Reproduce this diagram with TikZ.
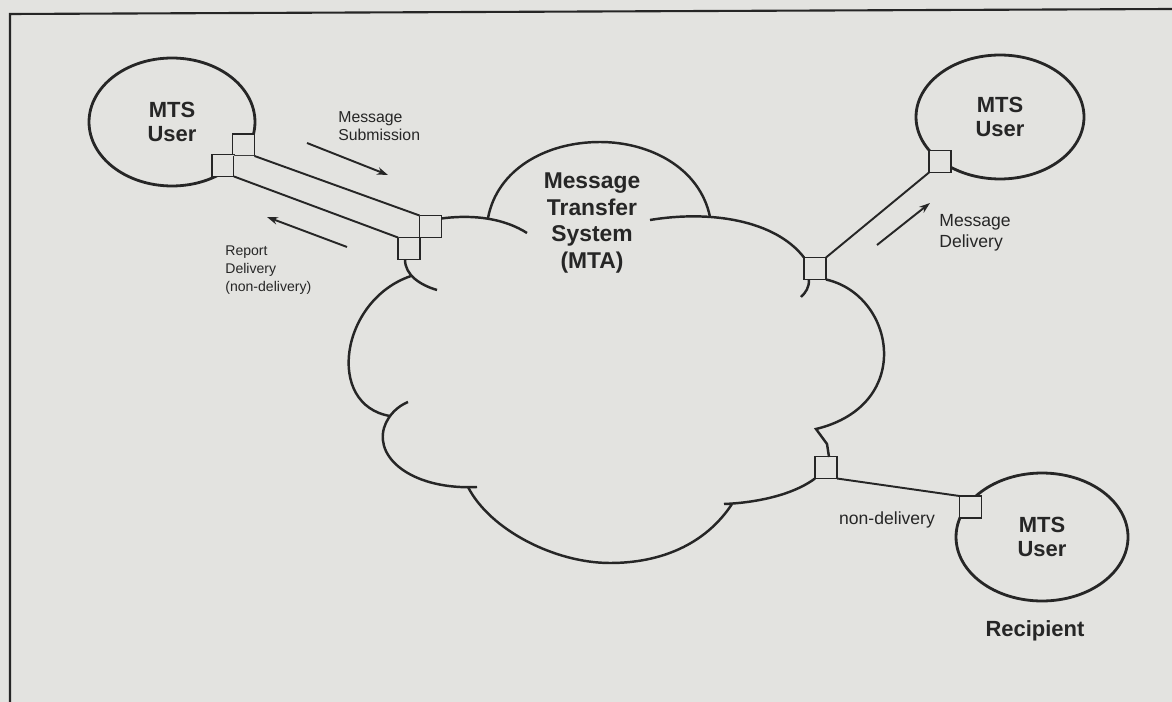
\documentclass[tikz,border=0pt]{standalone}
\usepackage{fontspec}
\setmainfont{Liberation Sans}
\usetikzlibrary{shapes.geometric,arrows.meta}
\definecolor{paper}{RGB}{227,227,224}
\definecolor{ink}{RGB}{38,38,38}

\begin{document}
\begin{tikzpicture}[x=0.02cm,y=-0.02cm,
  user/.style={draw=ink,line width=1.6pt,ellipse,align=center,text=ink,
    font=\fontsize{12.5}{14}\selectfont\bfseries},
  port/.style={draw=ink,line width=0.8pt,fill=paper,minimum size=0.44cm,
    inner sep=0pt,outer sep=0pt},
  cloud/.style={draw=ink,line width=1.4pt},
  link/.style={draw=ink,line width=1.1pt},
  lbl/.style={text=ink,align=left,inner sep=0pt,font=\fontsize{10}{12}\selectfont},
  >={Stealth[length=2.2mm,width=1.5mm]}]
\fill[paper] (0,0) rectangle (1172,702);
\useasboundingbox (0,0) rectangle (1172,702);
% frame of the figure
\draw[ink,line width=1.2pt] (10,702) -- (10,14) -- (1172,9);

% the MTS users
\node[user,minimum width=3.32cm,minimum height=2.56cm] (userA) at (172,122) {MTS\\User};
\node[user,minimum width=3.36cm,minimum height=2.48cm] (userB) at (1000,117) {MTS\\User};
\node[user,minimum width=3.44cm,minimum height=2.56cm] (userC) at (1042,537) {MTS\\User};

% access points
\node[port] (pA) at (243.5,145) {};
\node[port] (pB) at (223,165.5) {};
\node[port] (pC) at (430.5,226.5) {};
\node[port] (pD) at (409,248.5) {};
\node[port] (pE) at (815,268.5) {};
\node[port] (pF) at (826,467.5) {};
\node[port] (pG) at (940,161.5) {};
\node[port] (pH) at (970.5,507) {};

% inside of the submission channel
\fill[paper] (pA.south west) -- (pA.south east) -- (pC.north west)
  -- (pD.north west) -- (pB.south east) -- (pB.north east) -- cycle;

% message transfer system cloud
\draw[cloud] ([yshift=-0.06cm]pC.north east) .. controls (475,214) and (505,219) .. (527,233);
\draw[cloud] (488,218) .. controls (497,170) and (545,142) .. (600,142)
  .. controls (650,142) and (700,168) .. (710,217);
\draw[cloud] (650,220) .. controls (710,210) and (775,220) .. (pE.north west);
\draw[cloud] (pE.south east) .. controls (895,295) and (915,405) .. (816,429)
  -- (827,444) -- (829,457);
\draw[cloud] ([xshift=-0.12cm]pE.south) .. controls (809,288) and (806,292) .. (801,297);
\draw[cloud] (pF.south west) .. controls (790,497) and (750,503) .. (724,504);
\draw[cloud] (732,504) .. controls (705,545) and (660,563) .. (610,563)
  .. controls (555,563) and (490,530) .. (468,487);
\draw[cloud] (477,487) .. controls (415,490) and (375,460) .. (384,428)
  .. controls (388,415) and (398,406) .. (408,402);
\draw[cloud] (411,276) .. controls (340,300) and (325,405) .. (390,416);
\draw[cloud] ([xshift=-0.08cm]pD.south) .. controls (405,275) and (420,285) .. (437,290);
\node[font=\fontsize{13}{15.3}\selectfont\bfseries,text=ink,align=center] (mta) at (592,223)
  {Message\\Transfer\\System\\(MTA)};

% links
\draw[link] (pA.south east) -- (pC.north west);
\draw[link] (pB.south east) -- (pD.north west);
\draw[link] (pE.north east) -- (pG.south west);
\draw[link] (pF.south east) -- (pH.north west);

% direction of flow
\coordinate (subS) at (307,143);
\coordinate (subE) at (388,175);
\coordinate (repS) at (347,247);
\coordinate (repE) at (267,217);
\coordinate (delS) at (877,245);
\coordinate (delE) at (930,203);
\draw[->,ink,line width=1.1pt] (subS) -- (subE);
\draw[->,ink,line width=1.1pt] (repS) -- (repE);
\draw[->,ink,line width=1.1pt] (delS) -- (delE);

% labels
\node[lbl,anchor=west,font=\fontsize{9}{10}\selectfont] (lblSub) at (338,126) {Message\\Submission};
\node[lbl,anchor=west,font=\fontsize{8}{10.2}\selectfont] (lblRep) at (225,270) {Report\\Delivery\\(non-delivery)};
\node[lbl,anchor=west] (lblDel) at (939,233) {Message\\Delivery};
\node[lbl] (lblNon) at (887,520) {non-delivery};
\node[text=ink,font=\fontsize{12.5}{14}\selectfont\bfseries] (rcpt) at (1035,631) {Recipient};
\end{tikzpicture}
\end{document}
